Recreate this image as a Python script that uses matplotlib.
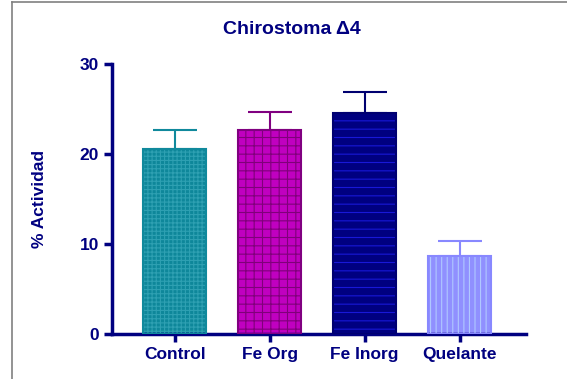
import matplotlib.pyplot as plt
from matplotlib.lines import Line2D

plt.rcParams['font.family'] = ['Liberation Sans', 'DejaVu Sans']
plt.rcParams['font.weight'] = 'bold'
plt.rcParams['hatch.linewidth'] = 0.8

grupos = ['Control', 'Fe Org', 'Fe Inorg', 'Quelante']
actividad = [20.6, 22.7, 24.6, 8.7]
error = [2.1, 2.0, 2.3, 1.6]

relleno = ['#0e879a', '#c000c0', '#000080', '#9090ff']
trama = ['#2ea0b2', '#80007a', '#1818d8', '#b0c8ff']
borde = ['#10899c', '#800080', '#000070', '#8888ff']
patron = ['++++', '++', '--', '|||']
azul = '#000080'

fig = plt.figure(figsize=(5.67, 3.79), dpi=100)
ax = fig.add_axes([112 / 567, 45 / 379, 414 / 567, 270 / 379])

x = range(len(grupos))
for i in x:
    ax.bar(i, actividad[i], width=0.67, color=relleno[i], edgecolor='none', zorder=2)
    ax.bar(i, actividad[i], width=0.67, color='none', edgecolor=trama[i],
           hatch=patron[i], linewidth=0, zorder=3)
    ax.bar(i, actividad[i], width=0.67, color='none', edgecolor=borde[i],
           linewidth=1.5, zorder=4)
    ax.errorbar(i, actividad[i], yerr=[[0], [error[i]]], color=borde[i],
                capsize=16, elinewidth=1.5, capthick=1.5, zorder=1)

ax.set_xlim(-0.66, 3.7)
ax.set_ylim(0, 30)
ax.set_yticks([0, 10, 20, 30])
ax.set_xticks(list(x))
ax.set_xticklabels(grupos)
for s in ['top', 'right']:
    ax.spines[s].set_visible(False)
for s in ['left', 'bottom']:
    ax.spines[s].set_color(azul)
    ax.spines[s].set_linewidth(2.5)
ax.tick_params(colors=azul, width=2.5, length=6, labelsize=12.5)
for t in ax.get_xticklabels() + ax.get_yticklabels():
    t.set_color(azul)
    t.set_fontweight('bold')

fig.text(40 / 567, 1 - 199 / 379, '% Actividad', rotation=90, ha='center',
         va='center', fontsize=12.5, color=azul, fontweight='bold')
fig.text(292 / 567, 1 - 30 / 379, 'Chirostoma Δ4', ha='center', va='center',
         fontsize=14, color=azul, fontweight='bold')

# marco gris de la imagen original
fig.add_artist(Line2D([12 / 567, 12 / 567], [0, 1 - 2 / 379], color='#808080', lw=1.2))
fig.add_artist(Line2D([12 / 567, 1], [1 - 2 / 379, 1 - 2 / 379], color='#808080', lw=1.2))

fig.savefig('out.png', dpi=100)
